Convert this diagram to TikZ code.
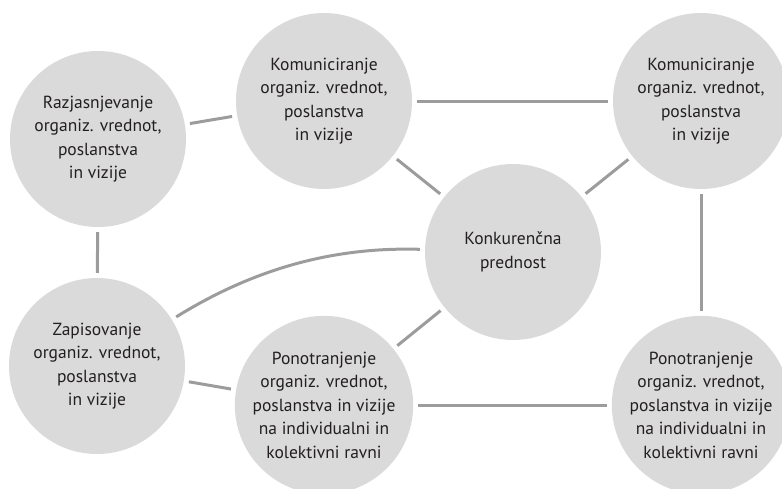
\documentclass[tikz,border=0pt]{standalone}
\usepackage{fontspec}
\setmainfont{PT Sans}
\begin{document}
\begin{tikzpicture}[x=1pt,y=-1pt,
  bubble/.style={circle,fill=bubblefill,minimum size=176pt,inner sep=0pt,
    align=center,text=textcol,font=\fontsize{17.5}{23.5}\selectfont},
  link/.style={draw=linkcol,line width=3pt,shorten <=5pt,shorten >=5pt}]
\definecolor{bubblefill}{HTML}{DADADA}
\definecolor{linkcol}{HTML}{9C9C9C}
\definecolor{textcol}{HTML}{231F20}
\useasboundingbox (0,0) rectangle (782,488);
\node[bubble] (raz) at (98,139) {Razjasnjevanje\\organiz. vrednot,\\poslanstva\\in vizije};
\node[bubble] (kom1) at (324,101) {Komuniciranje\\organiz. vrednot,\\poslanstva\\in vizije};
\node[bubble] (kom2) at (701,101) {Komuniciranje\\organiz. vrednot,\\poslanstva\\in vizije};
\node[bubble] (kon) at (513,252) {Konkurenčna\\prednost};
\node[bubble] (zap) at (97,366) {Zapisovanje\\organiz. vrednot,\\poslanstva\\in vizije};
\node[bubble] (pon1) at (324,405) {Ponotranjenje\\organiz. vrednot,\\poslanstva in vizije\\na individualni in\\kolektivni ravni};
\node[bubble] (pon2) at (701,405) {Ponotranjenje\\organiz. vrednot,\\poslanstva in vizije\\na individualni in\\kolektivni ravni};
\draw[link] (raz) -- (kom1);
\draw[link] (kom1) -- (kom2);
\draw[link] (kom1) -- (kon);
\draw[link] (kom2) -- (kon);
\draw[link] (kom2) -- (pon2);
\draw[link] (raz) -- (zap);
\draw[link] (zap) .. controls (260,265) and (340,247) .. (kon);
\draw[link] (zap) -- (pon1);
\draw[link] (pon1) -- (kon);
\draw[link] (pon1) -- (pon2);
\end{tikzpicture}
\end{document}
